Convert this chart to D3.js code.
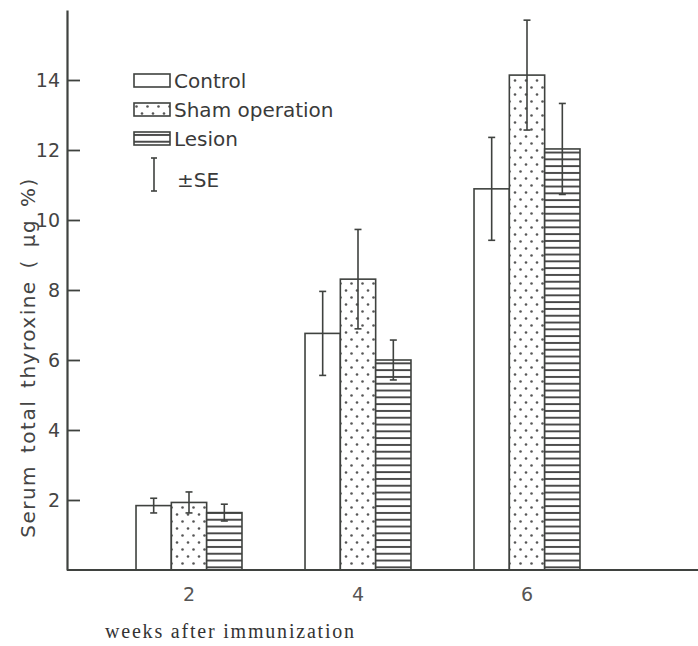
<!DOCTYPE html>
<html>
<head>
<meta charset="utf-8">
<script src="https://cdn.jsdelivr.net/npm/d3@7"></script>
<style>
  html, body { margin: 0; padding: 0; background: #fff; }
  svg { display: block; }
</style>
</head>
<body>
<svg id="chart" width="698" height="646"></svg>
<script>
const weeks = ["2", "4", "6"];
const seriesNames = ["Control", "Sham operation", "Lesion"];
const controlValues = [1.84, 6.76, 10.89];
const controlErrors = [0.21, 1.2, 1.47];
const shamValues = [1.93, 8.31, 14.14];
const shamErrors = [0.3, 1.42, 1.57];
const lesionValues = [1.64, 6.0, 12.03];
const lesionErrors = [0.24, 0.57, 1.3];
const yTicks = [2, 4, 6, 8, 10, 12, 14];
const xTitle = "weeks after immunization";
const yTitle = "Serum total thyroxine ( \u00b5g %)";
const errLegend = "\u00b1SE";

const W = 698, H = 646;
const m = { left: 67, right: 0, top: 10, bottom: 76 };
const ink = "#3f423f";

const svg = d3.select("#chart");

const defs = svg.append("defs");
const dots = defs.append("pattern").attr("id", "dots")
  .attr("patternUnits", "userSpaceOnUse").attr("width", 11).attr("height", 14);
dots.append("rect").attr("width", 11).attr("height", 14).attr("fill", "#fff");
dots.append("circle").attr("cx", 2.5).attr("cy", 3.5).attr("r", 1.3).attr("fill", "#555");
dots.append("circle").attr("cx", 8).attr("cy", 10.5).attr("r", 1.3).attr("fill", "#555");

const hl = defs.append("pattern").attr("id", "hlines")
  .attr("patternUnits", "userSpaceOnUse").attr("width", 8).attr("height", 6.8);
hl.append("rect").attr("width", 8).attr("height", 6.8).attr("fill", "#fff");
hl.append("rect").attr("x", 0).attr("y", 2).attr("width", 8).attr("height", 1.9).attr("fill", "#444");

const fills = ["#fff", "url(#dots)", "url(#hlines)"];

const y = d3.scaleLinear().domain([0, 16]).range([H - m.bottom, m.top]);
const x = d3.scaleBand().domain(weeks).range([104.5, 611.5])
  .paddingInner(0.373).paddingOuter(0.1865);
const xs = d3.scaleBand().domain(seriesNames).range([0, x.bandwidth()]).padding(0);

const data = weeks.map((w, i) => ({
  week: w,
  bars: [
    { s: seriesNames[0], v: controlValues[i], e: controlErrors[i], f: fills[0] },
    { s: seriesNames[1], v: shamValues[i], e: shamErrors[i], f: fills[1] },
    { s: seriesNames[2], v: lesionValues[i], e: lesionErrors[i], f: fills[2] }
  ]
}));

// bars
const g = svg.append("g").selectAll("g").data(data).join("g")
  .attr("transform", d => `translate(${x(d.week)},0)`);
g.selectAll("rect").data(d => d.bars).join("rect")
  .attr("x", d => xs(d.s))
  .attr("y", d => y(d.v))
  .attr("width", xs.bandwidth())
  .attr("height", d => y(0) - y(d.v))
  .attr("fill", d => d.f)
  .attr("stroke", ink).attr("stroke-width", 1.6);

// error bars
const cx = d => xs(d.s) + xs.bandwidth() / 2;
const eb = g.selectAll("g.err").data(d => d.bars).join("g").attr("class", "err")
  .attr("stroke", ink).attr("stroke-width", 1.6);
eb.append("line")
  .attr("x1", cx).attr("x2", cx)
  .attr("y1", d => y(d.v + d.e)).attr("y2", d => y(d.v - d.e));
eb.append("line")
  .attr("x1", d => cx(d) - 3.5).attr("x2", d => cx(d) + 3.5)
  .attr("y1", d => y(d.v + d.e)).attr("y2", d => y(d.v + d.e));
eb.append("line")
  .attr("x1", d => cx(d) - 3.5).attr("x2", d => cx(d) + 3.5)
  .attr("y1", d => y(d.v - d.e)).attr("y2", d => y(d.v - d.e));

// y axis
const ya = svg.append("g").attr("transform", `translate(${m.left},0)`)
  .call(d3.axisLeft(y).tickValues(yTicks).tickSizeInner(-13).tickSizeOuter(0).tickPadding(7));
ya.select(".domain").attr("stroke", ink).attr("stroke-width", 2.2);
ya.selectAll(".tick line").attr("stroke", ink).attr("stroke-width", 1.8);
ya.selectAll(".tick text").attr("fill", "#444").attr("font-family", "DejaVu Sans, sans-serif")
  .attr("font-size", 19);

// x axis
svg.append("line").attr("x1", m.left).attr("x2", W - m.right)
  .attr("y1", y(0)).attr("y2", y(0)).attr("stroke", ink).attr("stroke-width", 2);
const xa = svg.append("g").attr("transform", `translate(0,${y(0)})`)
  .call(d3.axisBottom(x).tickSize(0).tickPadding(18));
xa.select(".domain").remove();
xa.selectAll(".tick text").attr("fill", "#555").attr("font-family", "DejaVu Sans, sans-serif")
  .attr("font-size", 19);

// titles
svg.append("text").attr("x", 105).attr("y", 638)
  .attr("font-family", "Liberation Serif, serif").attr("font-size", 20).attr("fill", "#333")
  .attr("letter-spacing", 1.8)
  .text(xTitle);
svg.append("text").attr("transform", `translate(28,${(550 + 165) / 2}) rotate(-90)`)
  .attr("text-anchor", "middle").attr("dy", "0.35em")
  .attr("font-family", "DejaVu Sans, sans-serif").attr("font-size", 20).attr("fill", "#444")
  .attr("letter-spacing", 1.5).attr("word-spacing", 4)
  .text(yTitle);

// legend
const lg = svg.append("g").attr("transform", "translate(134,74)");
const li = lg.selectAll("g").data(seriesNames).join("g")
  .attr("transform", (d, i) => `translate(0,${i * 29})`);
li.append("rect").attr("width", 36).attr("height", 13)
  .attr("fill", (d, i) => fills[i]).attr("stroke", ink).attr("stroke-width", 1.6);
li.append("text").attr("x", 40).attr("y", 7).attr("dy", "0.35em")
  .attr("font-family", "DejaVu Sans, sans-serif").attr("font-size", 20).attr("fill", "#3a3a3a")
  .text(d => d);
const le = lg.append("g").attr("stroke", ink).attr("stroke-width", 1.6);
le.append("line").attr("x1", 20).attr("x2", 20).attr("y1", 84).attr("y2", 117);
le.append("line").attr("x1", 17).attr("x2", 23).attr("y1", 84).attr("y2", 84);
le.append("line").attr("x1", 17).attr("x2", 23).attr("y1", 117).attr("y2", 117);
lg.append("text").attr("x", 43).attr("y", 106)
  .attr("dy", "0.35em")
  .attr("font-family", "DejaVu Sans, sans-serif").attr("font-size", 20).attr("fill", "#3a3a3a")
  .text(errLegend);
</script>
</body>
</html>
